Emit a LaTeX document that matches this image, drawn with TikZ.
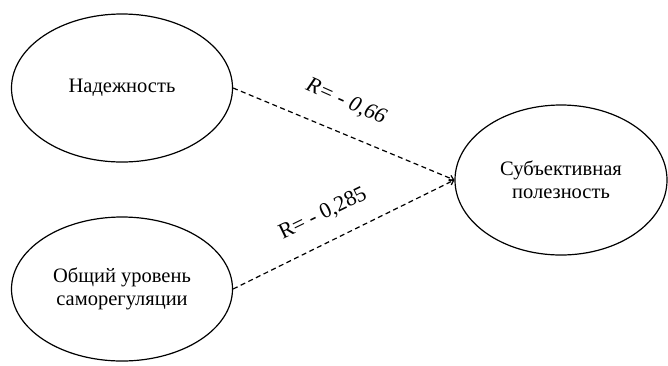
\documentclass[tikz,border=0pt]{standalone}
\usepackage{fontspec}
\setmainfont{Liberation Serif}
\usetikzlibrary{shapes.geometric,arrows.meta}
\begin{document}
\begin{tikzpicture}[x=1pt,y=-1pt,
  factor/.style={draw,ellipse,line width=1.2pt,minimum width=#1,align=center,font=\fontsize{20.5}{23.5}\selectfont},
  link/.style={line width=1.2pt,dash pattern=on 5pt off 3.5pt,-{Straight Barb[length=4pt,width=6pt]}},
  rlabel/.style={font=\fontsize{22}{25}\selectfont}]
\useasboundingbox (0,0) rectangle (668,365);
\node[factor=221pt,minimum height=148pt] (rel) at (122,88) {Надежность};
\node[factor=221pt,minimum height=144pt] (self) at (122,289) {Общий уровень\\саморегуляции};
\node[factor=212pt,minimum height=150pt] (util) at (561,180) {Субъективная\\полезность};
\draw[link] (rel.east) -- (util.west);
\draw[link] (self.east) -- (util.west);
\node[rlabel,rotate=-24] (r1) at (346,102) {\itshape R= - 0,66};
\node[rlabel,rotate=26] (r2) at (323,214) {R= - 0,285};
\end{tikzpicture}
\end{document}
